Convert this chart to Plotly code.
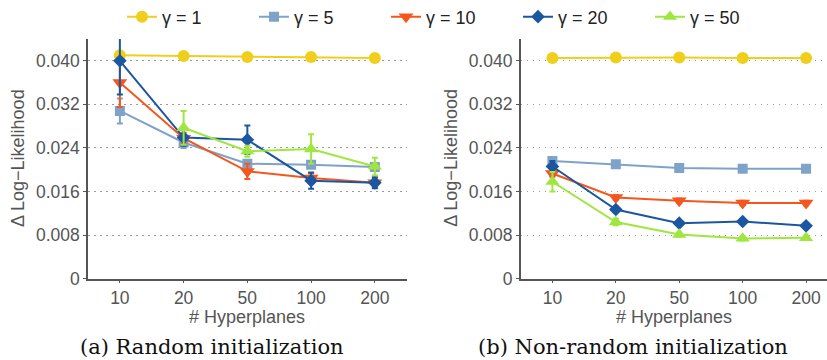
import plotly.graph_objects as go
from plotly.subplots import make_subplots

categories = ["10", "20", "50", "100", "200"]
series_names = ["γ = 1", "γ = 5", "γ = 10", "γ = 20", "γ = 50"]

# (a) Random initialization
rand_g1 = [0.0410, 0.0409, 0.0407, 0.0407, 0.0405]
rand_g5 = [0.0308, 0.0250, 0.0211, 0.0209, 0.0205]
rand_g10 = [0.0360, 0.0258, 0.0197, 0.0185, 0.0176]
rand_g20 = [0.0400, 0.0259, 0.0255, 0.0180, 0.0176]
rand_g50 = [None, 0.0277, 0.0234, 0.0238, 0.0206]
rand_e1 = [0.0006, 0.0006, 0.0006, 0.0006, 0.0006]
rand_e5 = [0.0023, 0.0010, 0.0006, 0.0006, 0.0006]
rand_e10 = [0.0045, 0.0010, 0.0014, 0.0008, 0.0008]
rand_e20 = [0.0062, 0.0015, 0.0026, 0.0015, 0.0010]
rand_e50 = [0.0, 0.0031, 0.0010, 0.0027, 0.0016]

# (b) Non-random initialization
nonr_g1 = [0.0405, 0.0406, 0.0406, 0.0405, 0.0405]
nonr_g5 = [0.0216, 0.0210, 0.0203, 0.0202, 0.0202]
nonr_g10 = [0.0193, 0.0149, 0.0143, 0.0139, 0.0139]
nonr_g20 = [0.0206, 0.0127, 0.0102, 0.0105, 0.0097]
nonr_g50 = [0.0178, 0.0104, 0.0081, 0.0074, 0.0075]
nonr_e1 = [0.0005, 0.0005, 0.0005, 0.0005, 0.0005]
nonr_e5 = [0.0007, 0.0004, 0.0004, 0.0004, 0.0004]
nonr_e10 = [0.0006, 0.0004, 0.0004, 0.0004, 0.0004]
nonr_e20 = [0.0010, 0.0005, 0.0004, 0.0004, 0.0004]
nonr_e50 = [0.0018, 0.0006, 0.0004, 0.0004, 0.0004]

y_tickvals = [0, 0.008, 0.016, 0.024, 0.032, 0.040]
y_ticktext = ["0", "0.008", "0.016", "0.024", "0.032", "0.040"]

colors = ["#EFCF1B", "#7FA2C9", "#F5561E", "#1B57A0", "#A0E640"]
symbols = ["circle", "square", "triangle-down", "diamond", "triangle-up"]
msizes = [12, 10, 13, 10.5, 12.5]

rand_vals = [rand_g1, rand_g5, rand_g10, rand_g20, rand_g50]
rand_errs = [rand_e1, rand_e5, rand_e10, rand_e20, rand_e50]
nonr_vals = [nonr_g1, nonr_g5, nonr_g10, nonr_g20, nonr_g50]
nonr_errs = [nonr_e1, nonr_e5, nonr_e10, nonr_e20, nonr_e50]

W, H = 827, 360
SANS = "Liberation Sans, Arial, Helvetica, sans-serif"
fig = make_subplots(rows=1, cols=2)

for col, (vals, errs) in enumerate([(rand_vals, rand_errs), (nonr_vals, nonr_errs)], start=1):
    for i in range(5):
        fig.add_trace(go.Scatter(
            x=categories, y=vals[i], name=series_names[i],
            mode="lines+markers", showlegend=(col == 1),
            line=dict(color=colors[i], width=2),
            marker=dict(symbol=symbols[i], size=msizes[i], color=colors[i], line=dict(width=0)),
            error_y=dict(type="data", array=errs[i], visible=True, color=colors[i], thickness=2, width=3),
        ), row=1, col=col)

top, bottom = 39, 278.7
ydom = [1 - bottom / H, 1 - top / H]
fig.update_layout(
    width=W, height=H, margin=dict(l=0, r=0, t=0, b=0, autoexpand=False),
    paper_bgcolor="white", plot_bgcolor="white",
    font=dict(family=SANS, color="#555555", size=17),
    xaxis=dict(domain=[88 / W, 406.7 / W], range=[-0.5, 4.5]),
    xaxis2=dict(domain=[520.7 / W, 1.0], range=[-0.5, 4.33]),
    yaxis=dict(domain=ydom),
    yaxis2=dict(domain=ydom),
    legend=dict(orientation="h", x=122 / W, xanchor="left", y=1 - 17 / H, yanchor="middle",
                entrywidth=87, entrywidthmode="pixels",
                font=dict(family=SANS, size=18, color="#222222"),
                bgcolor="rgba(0,0,0,0)", itemclick=False, borderwidth=0),
    showlegend=True,
)
for ax in ["xaxis", "xaxis2"]:
    fig.layout[ax].update(type="category", showgrid=False, showline=True, linecolor="#555555", linewidth=1.5,
                          ticks="outside", ticklen=3, tickcolor="#555555",
                          tickfont=dict(size=17.5, color="#555555", family=SANS),
                          zeroline=False, automargin=False)
for ax in ["yaxis", "yaxis2"]:
    fig.layout[ax].update(range=[0, 0.044], tickvals=y_tickvals, ticktext=y_ticktext,
                          showgrid=True, gridcolor="#9a9a9a", griddash="1.5px,4.5px", gridwidth=1.2,
                          showline=True, linecolor="#555555", linewidth=1.5,
                          ticks="outside", ticklen=3, tickcolor="#555555",
                          tickfont=dict(size=17.5, color="#555555", family=SANS),
                          zeroline=False, automargin=False)

ann = []
for cx, ax_left in [((88 + 406.7) / 2, 88), ((520.7 + 827) / 2, 520.7)]:
    ann.append(dict(text="# Hyperplanes", x=cx / W, y=1 - 316.5 / H, xref="paper", yref="paper",
                    showarrow=False, xanchor="center", yanchor="middle",
                    font=dict(size=18, color="#555555", family=SANS)))
    ann.append(dict(text="Δ Log−Likelihood", x=(ax_left - 70) / W, y=1 - 158 / H, xref="paper", yref="paper",
                    showarrow=False, xanchor="center", yanchor="middle", textangle=-90,
                    font=dict(size=18, color="#555555", family=SANS)))
ann.append(dict(text="(a) Random initialization", x=212 / W, y=1 - 347 / H, xref="paper", yref="paper",
                showarrow=False, xanchor="center", yanchor="middle",
                font=dict(size=21, color="#111111", family="DejaVu Serif, serif")))
ann.append(dict(text="(b) Non-random initialization", x=633 / W, y=1 - 347 / H, xref="paper", yref="paper",
                showarrow=False, xanchor="center", yanchor="middle",
                font=dict(size=21, color="#111111", family="DejaVu Serif, serif")))
fig.update_layout(annotations=ann)

fig.write_html("out.html")
